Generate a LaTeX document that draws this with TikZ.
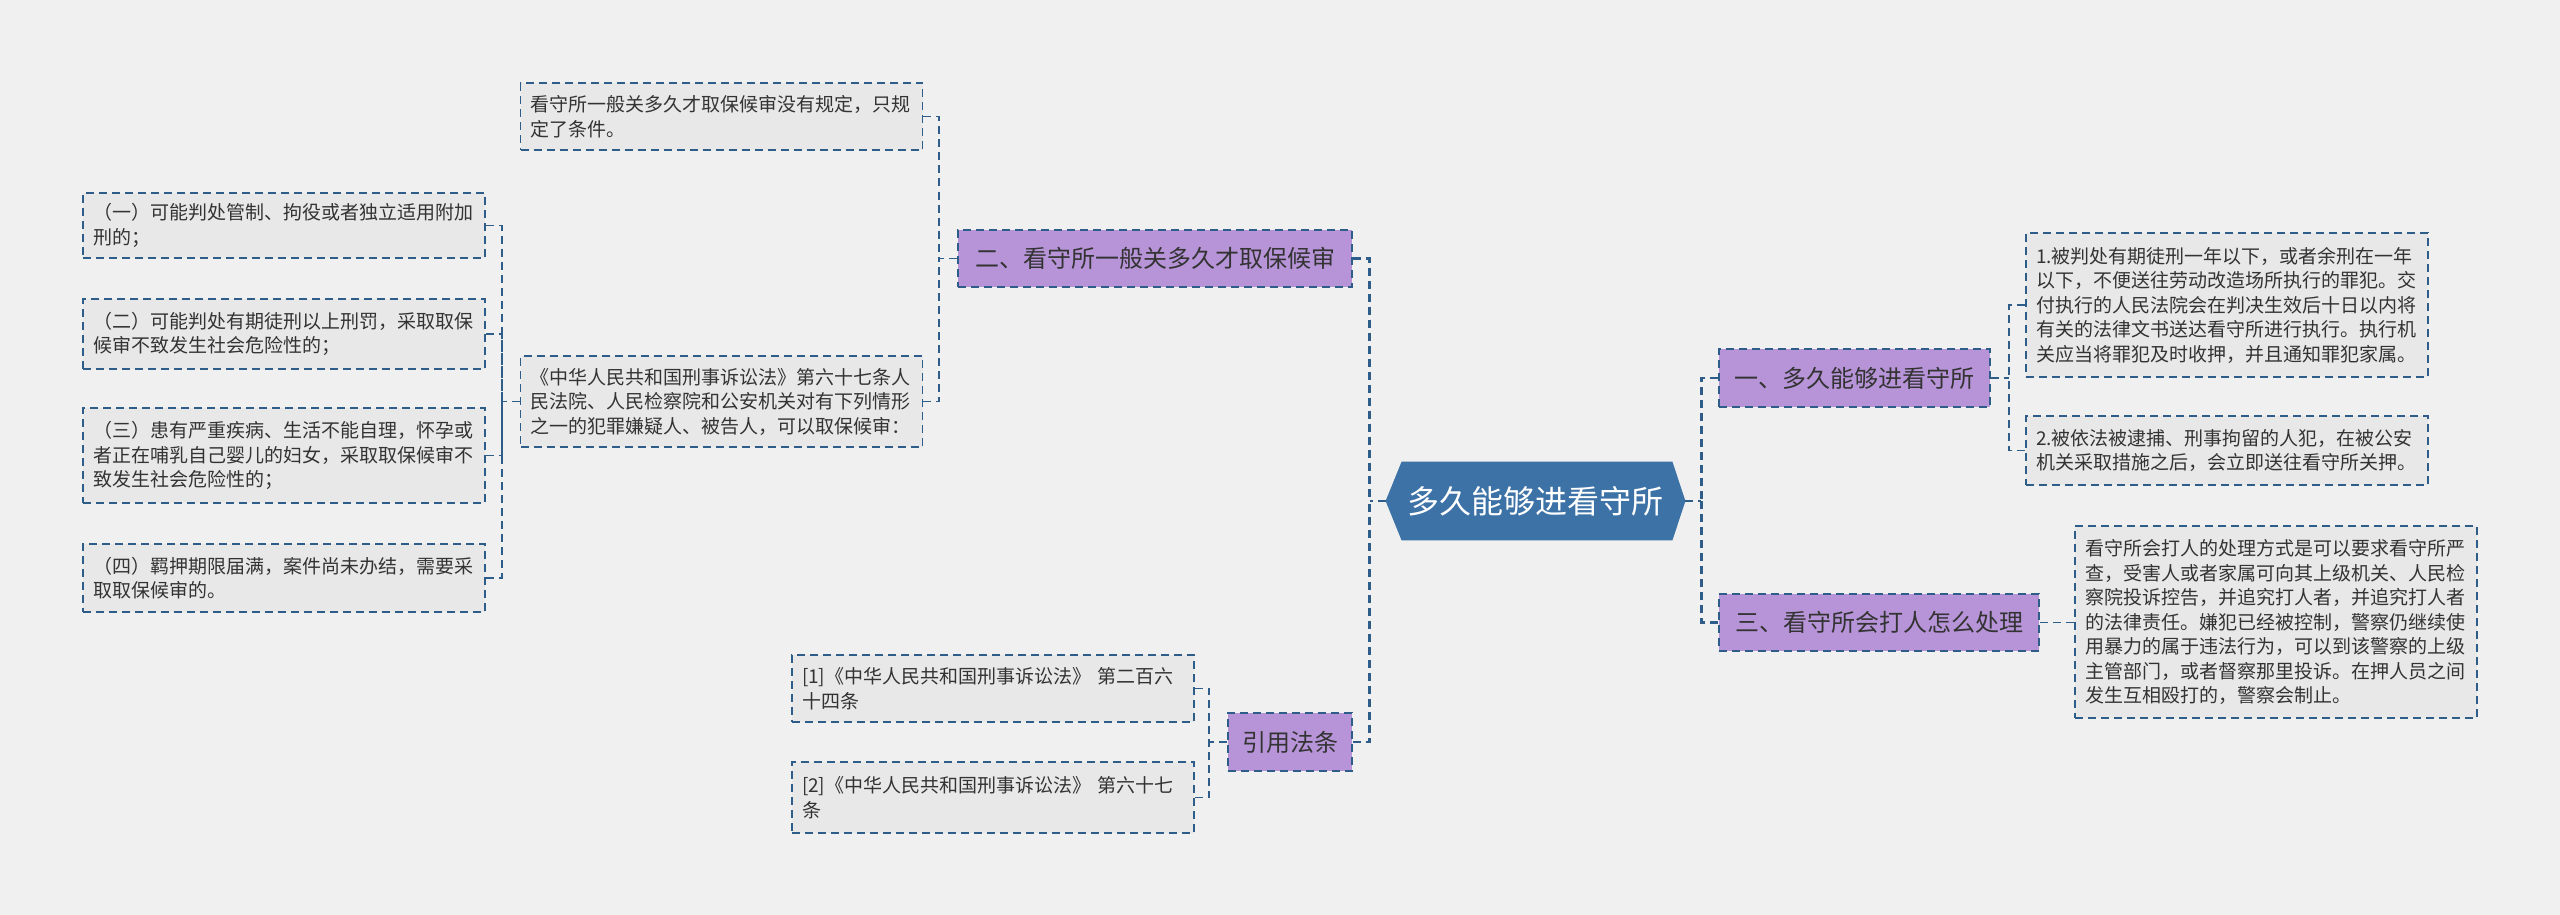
\documentclass[tikz,border=0pt]{standalone}
\usepackage{fontspec}
\setmainfont{Noto Sans CJK SC}
\usetikzlibrary{calc,backgrounds}
\definecolor{bgc}{HTML}{F0F0F0}
\definecolor{leaffill}{HTML}{E8E8E8}
\definecolor{edgec}{HTML}{2E5D8A}
\definecolor{branchfill}{HTML}{B794D8}
\definecolor{rootfill}{HTML}{3D72A6}
\definecolor{txt}{HTML}{333333}
\begin{document}
\begin{tikzpicture}[x=0.5pt,y=-0.5pt,
  leaf/.style={draw=edgec, line width=0.75pt, dash pattern=on 4pt off 2.5pt,
    fill=leaffill, text=txt, text width=191pt, inner xsep=5pt, inner ysep=2pt,
    align=left, font=\fontsize{9.5}{12.25}\selectfont, minimum width=201pt},
  branch/.style={draw=edgec, line width=0.75pt, dash pattern=on 4pt off 2.5pt,
    fill=branchfill, text=txt, font=\fontsize{12}{14}\selectfont, inner sep=0pt},
  rootbox/.style={text=white, font=\fontsize{16}{18}\selectfont, inner sep=0pt,
    minimum width=149.5pt, minimum height=39pt},
  conn/.style={draw=edgec, line width=0.8pt, dash pattern=on 4pt off 2.5pt},
  mainconn/.style={conn, line width=1.4pt}
]
\useasboundingbox (0,0) rectangle (2560,915);
\begin{scope}[on background layer]
  \fill[bgc] (0,0) rectangle (2560,915);
\end{scope}

% root
\node[rootbox] (root) at (1535.5,501) {多久能够进看守所};
\begin{scope}[on background layer]
  \fill[rootfill] (root.west) -- ($(root.north west)+(16,0)$) -- ($(root.north east)+(-13,0)$)
    -- (root.east) -- ($(root.south east)+(-13,0)$) -- ($(root.south west)+(16,0)$) -- cycle;
\end{scope}

% branches
\node[branch, minimum width=197pt, minimum height=28.5pt] (b2) at (1155,258.5) {二、看守所一般关多久才取保候审};
\node[branch, minimum width=62pt, minimum height=29pt] (bc) at (1290,742) {引用法条};
\node[branch, minimum width=135.5pt, minimum height=29pt] (b1) at (1854.5,378) {一、多久能够进看守所};
\node[branch, minimum width=160pt, minimum height=28.5pt] (b3) at (1879,622.5) {三、看守所会打人怎么处理};

% leaves left
\node[leaf, minimum height=33.5pt] (lt) at (721.5,116.5) {看守所一般关多久才取保候审没有规定，只规\\定了条件。};
\node[leaf, minimum height=45.5pt] (l67) at (721.5,401.5) {《中华人民共和国刑事诉讼法》第六十七条人\\民法院、人民检察院和公安机关对有下列情形\\之一的犯罪嫌疑人、被告人，可以取保候审：};
\node[leaf, minimum height=32.5pt] (l1) at (284,225.5) {（一）可能判处管制、拘役或者独立适用附加\\刑的；};
\node[leaf, minimum height=35pt] (l2) at (284,334) {（二）可能判处有期徒刑以上刑罚，采取取保\\候审不致发生社会危险性的；};
\node[leaf, minimum height=47.5pt] (l3) at (284,455.5) {（三）患有严重疾病、生活不能自理，怀孕或\\者正在哺乳自己婴儿的妇女，采取取保候审不\\致发生社会危险性的；};
\node[leaf, minimum height=34pt] (l4) at (284,578) {（四）羁押期限届满，案件尚未办结，需要采\\取取保候审的。};
\node[leaf, minimum height=33.5pt] (c1) at (993,688.5) {[1]《中华人民共和国刑事诉讼法》 第二百六\\十四条};
\node[leaf, minimum height=35.5pt] (c2) at (993,797.5) {[2]《中华人民共和国刑事诉讼法》 第六十七\\条};

% leaves right
\node[leaf, minimum height=72pt] (r1) at (2227,305) {1.被判处有期徒刑一年以下，或者余刑在一年\\以下，不便送往劳动改造场所执行的罪犯。交\\付执行的人民法院会在判决生效后十日以内将\\有关的法律文书送达看守所进行执行。执行机\\关应当将罪犯及时收押，并且通知罪犯家属。};
\node[leaf, minimum height=34.5pt] (r2) at (2227,450.5) {2.被依法被逮捕、刑事拘留的人犯，在被公安\\机关采取措施之后，会立即送往看守所关押。};
\node[leaf, minimum height=96pt] (r3) at (2276,622) {看守所会打人的处理方式是可以要求看守所严\\查，受害人或者家属可向其上级机关、人民检\\察院投诉控告，并追究打人者，并追究打人者\\的法律责任。嫌犯已经被控制，警察仍继续使\\用暴力的属于违法行为，可以到该警察的上级\\主管部门，或者督察那里投诉。在押人员之间\\发生互相殴打的，警察会制止。};

% main connectors
\draw[mainconn] (root.west) -- ++(-16,0) coordinate (jl);
\draw[mainconn] (b2.east) -| (jl);
\draw[mainconn] (bc.east) -| (jl);
\draw[mainconn] (root.east) -- ++(16,0) coordinate (jr);
\draw[mainconn] (b1.west) -| (jr);
\draw[mainconn] (b3.west) -| (jr);

% sub connectors
\draw[conn] (b2.west) -- ++(-18,0) coordinate (j2);
\draw[conn] (lt.east) -| (j2);
\draw[conn] (l67.east) -| (j2);
\draw[conn] (l67.west) -- ++(-18,0) coordinate (j67);
\draw[conn] (l1.east) -| (j67);
\draw[conn] (l2.east) -| (j67);
\draw[conn] (l3.east) -| (j67);
\draw[conn] (l4.east) -| (j67);
\draw[conn] (b1.east) -- ++(18,0) coordinate (j1);
\draw[conn] (r1.west) -| (j1);
\draw[conn] (r2.west) -| (j1);
\draw[conn] (b3.east) -- (r3.west |- b3.east);
\draw[conn] (bc.west) -- ++(-18,0) coordinate (jc);
\draw[conn] (c1.east) -| (jc);
\draw[conn] (c2.east) -| (jc);
\end{tikzpicture}
\end{document}
